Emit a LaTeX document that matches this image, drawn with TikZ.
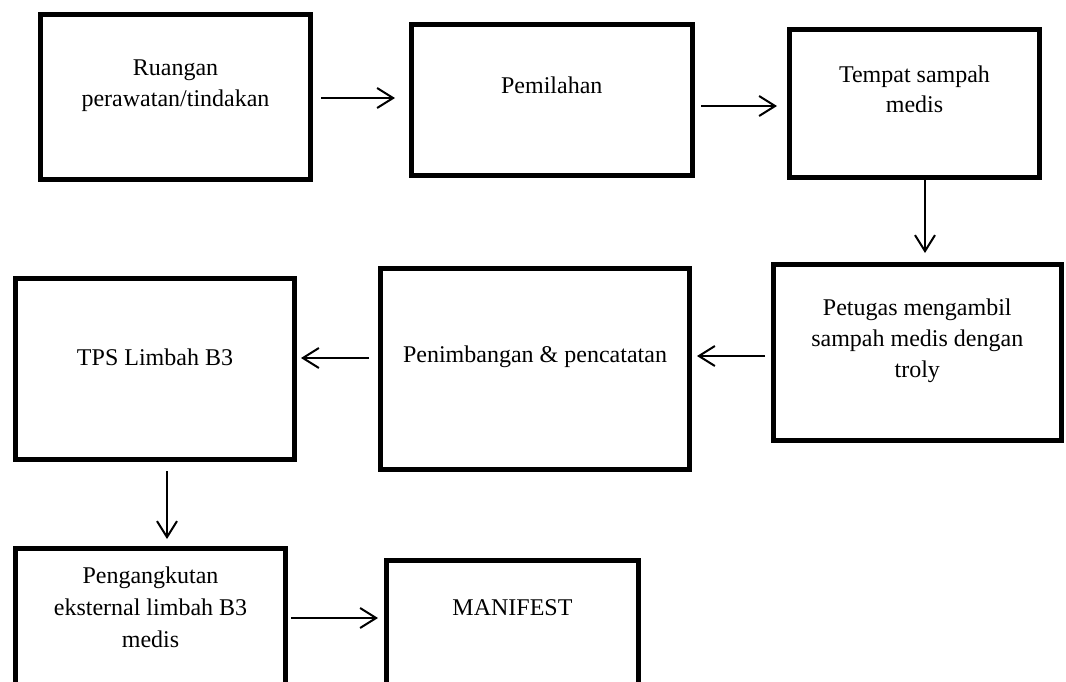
\documentclass[tikz,border=0pt]{standalone}
\usepackage{fontspec}
\setmainfont{Liberation Serif}
\usetikzlibrary{arrows.meta,calc}
\tikzset{
  box/.style={draw=black, line width=5pt, rectangle, inner sep=0pt, fill=none},
  lbl/.style={anchor=base, inner sep=0pt, font=\fontsize{24}{31}\selectfont},
  arr/.style={draw=black, line width=2pt, -{Straight Barb[length=16pt,width=20pt]}}
}
\begin{document}
\begin{tikzpicture}[x=1pt,y=-1pt]
\useasboundingbox (0,0) rectangle (1066,681);
\clip (0,0) rectangle (1066,681);
\fill[white] (0,0) rectangle (1066,681);
% boxes
\node[box, minimum width=270pt, minimum height=165pt] (b1) at (175.5,97) {};
\node[box, minimum width=281.5pt, minimum height=151pt] (b2) at (551.75,100) {};
\node[box, minimum width=250pt, minimum height=148pt] (b3) at (914.5,103.5) {};
\node[box, minimum width=287.5pt, minimum height=176pt] (b4) at (917.25,352.5) {};
\node[box, minimum width=309pt, minimum height=201pt] (b5) at (535,369) {};
\node[box, minimum width=279pt, minimum height=181pt] (b6) at (155,369) {};
\node[box, minimum width=270pt, minimum height=171.5pt] (b7) at (150.5,634.25) {};
\node[box, minimum width=252pt, minimum height=159.5pt] (b8) at (512.5,640.25) {};
% texts
\node[lbl] (t1a) at (175.5,75) {Ruangan};
\node[lbl] (t1b) at (175.5,106) {perawatan/tindakan};
\node[lbl] (t2) at (551.75,93) {Pemilahan};
\node[lbl] (t3a) at (914.5,82) {Tempat sampah};
\node[lbl] (t3b) at (914.5,112) {medis};
\node[lbl] (t4a) at (917.25,315) {Petugas mengambil};
\node[lbl] (t4b) at (917.25,346) {sampah medis dengan};
\node[lbl] (t4c) at (917.25,377) {troly};
\node[lbl] (t5) at (535,362) {Penimbangan \& pencatatan};
\node[lbl] (t6) at (155,365) {TPS Limbah B3};
\node[lbl] (t7a) at (150.5,583) {Pengangkutan};
\node[lbl] (t7b) at (150.5,615) {eksternal limbah B3};
\node[lbl] (t7c) at (150.5,647) {medis};
\node[lbl] (t8) at (512.5,615) {MANIFEST};
% connectors
\draw[arr, shorten <=8pt, shorten >=13.5pt] ([yshift=-1pt]b1.east) -- ([yshift=-1pt]b1.east -| b2.west);
\draw[arr, shorten <=6pt, shorten >=10pt] ([yshift=-6pt]b2.east) -- ([yshift=-6pt]b2.east -| b3.west);
\draw[arr, shorten <=0pt, shorten >=9pt] ([xshift=10.5pt]b3.south) -- ([xshift=10.5pt]b3.south |- b4.north);
\draw[arr, shorten <=6pt, shorten >=5pt] ([yshift=-3.5pt]b4.west) -- ([yshift=-3.5pt]b4.west -| b5.east);
\draw[arr, shorten <=9pt, shorten >=4pt] ([yshift=11pt]b5.west) -- ([yshift=11pt]b5.west -| b6.east);
\draw[arr, shorten <=9pt, shorten >=7pt] ([xshift=12pt]b6.south) -- ([xshift=12pt]b6.south |- b7.north);
\draw[arr, shorten <=3pt, shorten >=6pt] ([yshift=16.25pt]b7.east) -- ([yshift=16.25pt]b7.east -| b8.west);
\end{tikzpicture}
\end{document}
